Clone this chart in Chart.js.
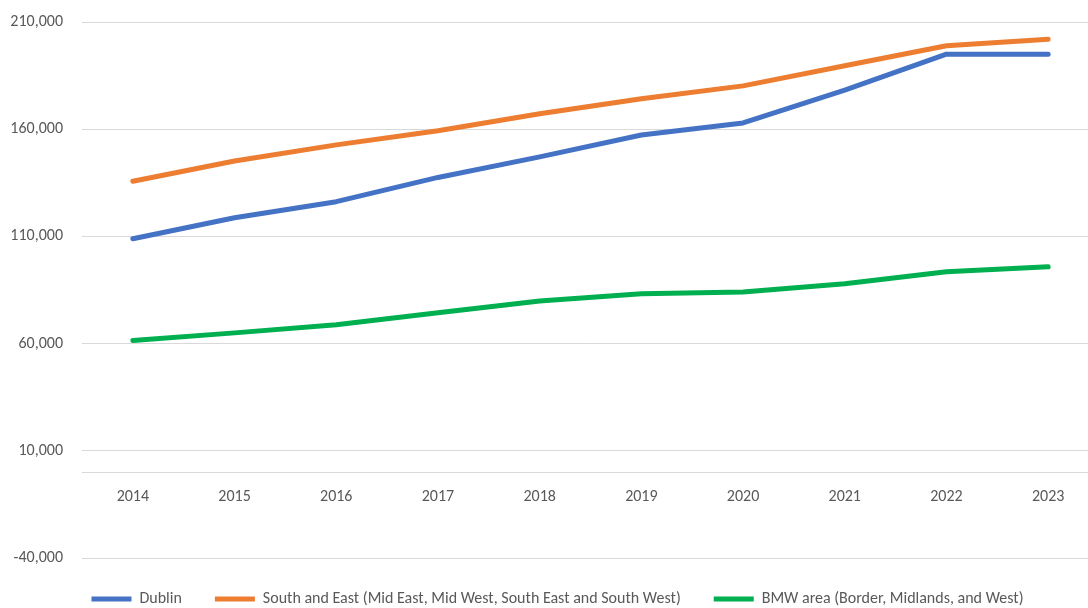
<!DOCTYPE html>
<html>
<head>
<meta charset="utf-8">
<script src="https://cdn.jsdelivr.net/npm/chart.js@4"></script>
<style>
  html, body { margin: 0; padding: 0; background: #ffffff; overflow: hidden; width: 1088px; height: 608px; }
  #c { display: block; }
</style>
</head>
<body>
<canvas id="c" width="1100" height="608"></canvas>
<script>
const years = ['2014', '2015', '2016', '2017', '2018', '2019', '2020', '2021', '2022', '2023'];
const dublin = [108900, 118700, 126200, 137500, 147100, 157300, 162900, 178200, 195000, 195000];
const southEast = [135700, 145200, 152700, 159300, 167200, 174200, 180200, 189600, 198900, 202000];
const bmw = [61400, 65000, 68800, 74400, 79900, 83200, 84100, 87900, 93500, 95800];
const seriesNames = ['Dublin', 'South and East (Mid East, Mid West, South East and South West)', 'BMW area (Border, Midlands, and West)'];
const yMin = -40000, yMax = 210000, yStep = 50000;

const FONT = 'Carlito, Lato, "Liberation Sans", sans-serif';
const TEXT = '#595959';
const GRID = '#d9d9d9';

function ds(label, data, color) {
  return {
    label, data,
    borderColor: color, backgroundColor: color,
    borderWidth: 5, borderCapStyle: 'round', borderJoinStyle: 'round',
    pointRadius: 0, pointHoverRadius: 0, tension: 0, fill: false,
    pointStyle: 'line'
  };
}

const shiftLegend = {
  id: 'shiftLegend',
  afterLayout(chart) {
    if (chart.legend) { chart.legend.left += 8; chart.legend.right += 8; }
  }
};

new Chart(document.getElementById('c'), {
  type: 'line',
  data: {
    labels: years,
    datasets: [
      ds(seriesNames[0], dublin, '#4472C4'),
      ds(seriesNames[1], southEast, '#ED7D31'),
      ds(seriesNames[2], bmw, '#00B050')
    ]
  },
  plugins: [shiftLegend],
  options: {
    responsive: false,
    animation: false,
    layout: { padding: { top: 22, right: 1, left: 0, bottom: -9 } },
    plugins: {
      tooltip: { enabled: false },
      legend: {
        position: 'bottom',
        labels: {
          usePointStyle: true, pointStyle: 'line', pointStyleWidth: 40,
          padding: 33, color: TEXT,
          font: { family: FONT, size: 16 }
        }
      }
    },
    scales: {
      x: {
        type: 'category',
        position: { y: 0 },
        offset: true,
        grid: { display: false },
        border: { display: true, color: GRID, width: 1 },
        ticks: { color: TEXT, padding: 7, font: { family: FONT, size: 16 }, maxRotation: 0 },
        afterFit: (s) => { s.height = 0; s.paddingLeft = 0; s.paddingRight = 0; s.paddingTop = 0; s.paddingBottom = 0; }
      },
      y: {
        min: yMin, max: yMax,
        grid: { color: GRID, lineWidth: 1, drawTicks: false },
        border: { display: false },
        ticks: { stepSize: yStep, color: TEXT, padding: 19, font: { family: FONT, size: 16 } },
        afterFit: (s) => { s.width = 82; s.paddingTop = 0; s.paddingBottom = 0; }
      }
    }
  }
});
</script>
</body>
</html>
